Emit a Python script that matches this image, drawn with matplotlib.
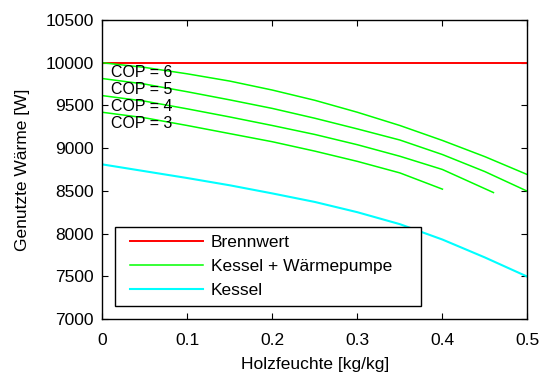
import matplotlib
matplotlib.use("Agg")
import matplotlib.pyplot as plt
from matplotlib.legend_handler import HandlerLine2D

plt.rcParams['font.family'] = ['Liberation Sans', 'DejaVu Sans']

# Holzfeuchte [kg/kg]
x_full = [0.0, 0.05, 0.1, 0.15, 0.2, 0.25, 0.3, 0.35, 0.4, 0.45, 0.5]
x_cop4 = [0.0, 0.05, 0.1, 0.15, 0.2, 0.25, 0.3, 0.35, 0.4, 0.46]
x_cop3 = [0.0, 0.05, 0.1, 0.15, 0.2, 0.25, 0.3, 0.35, 0.4]

# Genutzte Wärme [W]
brennwert = [10000] * 11
cop6 = [10000, 9945, 9870, 9785, 9680, 9560, 9420, 9265, 9090, 8900, 8690]
cop5 = [9815, 9750, 9660, 9565, 9465, 9350, 9225, 9095, 8925, 8725, 8495]
cop4 = [9615, 9550, 9460, 9365, 9265, 9160, 9040, 8905, 8750, 8480]
cop3 = [9420, 9355, 9265, 9170, 9075, 8965, 8845, 8710, 8520]
kessel = [8810, 8730, 8650, 8565, 8470, 8370, 8250, 8110, 7930, 7720, 7495]

cop_labels = ["COP = 6", "COP = 5", "COP = 4", "COP = 3"]
cop_label_y = [9890, 9692, 9489, 9291]

x_ticks = [0, 0.1, 0.2, 0.3, 0.4, 0.5]
x_ticklabels = ["0", "0.1", "0.2", "0.3", "0.4", "0.5"]
y_ticks = [7000, 7500, 8000, 8500, 9000, 9500, 10000, 10500]


class InsetLineHandler(HandlerLine2D):
    """Legend line that starts a few points inside its handle box."""

    def __init__(self, inset=5.2, **kw):
        super().__init__(**kw)
        self.inset = inset

    def create_artists(self, legend, orig_handle, xdescent, ydescent,
                       width, height, fontsize, trans):
        return super().create_artists(legend, orig_handle,
                                      xdescent - self.inset, ydescent,
                                      width - self.inset, height,
                                      fontsize, trans)


fig = plt.figure(figsize=(5.42, 3.74), dpi=100)
ax = fig.add_axes([0.1886, 0.1471, 0.7846, 0.7994])

red, green, cyan = (1, 0, 0), (0, 1, 0), (0, 1, 1)
ax.plot(x_full, brennwert, color=red, lw=1.4, label="Brennwert")
ax.plot(x_full, cop6, color=green, lw=1.1, label="Kessel + Wärmepumpe")
ax.plot(x_full, cop5, color=green, lw=1.1)
ax.plot(x_cop4, cop4, color=green, lw=1.1)
ax.plot(x_cop3, cop3, color=green, lw=1.1)
ax.plot(x_full, kessel, color=cyan, lw=1.5, label="Kessel")

for txt, yv in zip(cop_labels, cop_label_y):
    ax.text(0.01, yv, txt, fontsize=11.5, va="center", ha="left")

ax.set_xlim(0, 0.5)
ax.set_ylim(7000, 10500)
ax.set_xticks(x_ticks)
ax.set_xticklabels(x_ticklabels)
ax.set_yticks(y_ticks)
ax.tick_params(direction="in", length=4, width=0.8, top=True, right=True,
               labelsize=12.5, colors="black")
ax.tick_params(axis="x", pad=10)
ax.tick_params(axis="y", pad=6)
for s in ax.spines.values():
    s.set_linewidth(1.0)

ax.set_xlabel("Holzfeuchte [kg/kg]", fontsize=12.5, labelpad=6.5)
ax.set_ylabel("Genutzte Wärme [W]", fontsize=12.5, labelpad=11)

leg = ax.legend(loc="lower left", bbox_to_anchor=(0.029, 0.044, 0.72, 0.268),
                mode="expand", fontsize=12.5, frameon=True, fancybox=False,
                handlelength=4.62, handletextpad=0.48, labelspacing=0.5,
                borderpad=0.45, borderaxespad=0,
                handler_map={plt.Line2D: InsetLineHandler(inset=5.2)})
leg.get_frame().set_edgecolor("black")
leg.get_frame().set_linewidth(1.0)
leg.get_frame().set_alpha(1)

fig.savefig("out.png", dpi=100)
